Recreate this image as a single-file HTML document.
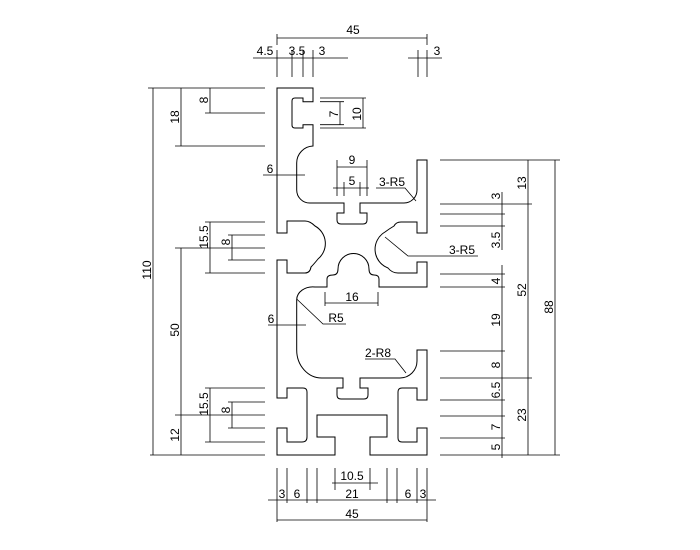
<!DOCTYPE html>
<html><head><meta charset="utf-8"><style>
html,body{margin:0;padding:0;background:#fff;}
svg{display:block;}
text{font-family:"Liberation Sans",sans-serif;font-size:12px;fill:#000;}
</style></head><body>
<svg width="700" height="550" viewBox="0 0 700 550" xmlns="http://www.w3.org/2000/svg">
<g fill="none" stroke="#000" stroke-width="1">
<path d="M277,88 H313 V101.7 H303 V98 H295 Q292,98 292,101 V125 Q292,128 295,128 H303 V124.7 H313 V146
A17 17 0 0 0 296.7 163 V190 A13 13 0 0 0 310 203 H344 V213 H337 V220 Q337,224 341,224 H363 Q367,224 367,220 V213 H360 V203 H404 A13 13 0 0 0 417 190 V160 H427 V233 H417 V222 H401 Q396,222 394,226 Q389,229 385,232 A20 20 0 0 0 388 268 Q392,273 398,273 H417 V262 H427 V287 H379 V279 Q379,275 374,275 Q369,275 369,269 A15 15 0 0 0 338 269 Q338,275 333,275 Q327,275 327,279 V287 H315 A16 13 0 0 0 296.7 300 V350 A25 28 0 0 0 322 378 H343 V388 H337 V395 Q337,399 341,399 H364 Q368,399 368,395 V388 H360 V378 H400 A17 17 0 0 0 417 361 V350 H427 V400 H417 V388 H402 Q398,388 398,392 V438 Q398,442 402,442 H417 V428 H427 V455 H370 V437 H387 V415 H317 V437 H335 V455 H277 V428 H287 V442 H302 Q307,442 307,437 V392 Q307,388 303,388 H287 V398 H277 V260 H287 V273 H305 Q310,273 311,267 Q314,264 318,259 A20 20 0 0 0 315 226 Q310,221 305,221 H287 V233 H277 Z"/>
</g>
<g fill="none" stroke="#000" stroke-width="0.8">
<!-- top dims -->
<path d="M277,38 H427 M277,34 V45 M427,34 V45"/>
<path d="M253,58 H348 M408,58 H442 M277,50 V77 M292,50 V77 M303,50 V77 M313,50 V77 M418,50 V77 M427,50 V77"/>
<!-- left dims -->
<path d="M148,88 H265 M150,455 H265 M153,88 V455"/>
<path d="M181,88 V146 M175,146 H265"/>
<path d="M210,88 V113 M205,113 H265"/>
<path d="M205,222 H265 M205,273 H265 M210,222 V273"/>
<path d="M228,235 H265 M228,260 H265 M232,235 V260"/>
<path d="M175,248 H265 M181,248 V455"/>
<path d="M205,388 H265 M205,442 H265 M210,388 V442"/>
<path d="M228,402 H265 M228,428 H265 M232,402 V428"/>
<path d="M175,415 H265"/>
<!-- 6 labels -->
<path d="M263,175 H305 M268,325 H306"/>
<!-- R5 -->
<path d="M296.7,299 L323,324 H346"/>
<!-- 2-R8 -->
<path d="M365,359 H395 L406,373"/>
<!-- 16 -->
<path d="M325,303 H378 M325,292 V306 M378,292 V306"/>
<!-- 9, 5 -->
<path d="M337,167 H367 M337,160 V196 M367,160 V196"/>
<path d="M333,188 H369 M344,182 V196 M360,182 V196"/>
<!-- 3-R5 upper -->
<path d="M376,188 H405 L416,201"/>
<!-- 7, 10 -->
<path d="M320,101.7 H344 M320,124.7 H344 M340,101.7 V124.7"/>
<path d="M320,98 H366 M320,128 H366 M363,98 V128"/>
<!-- right dims -->
<path d="M440,160 H560 M440,455 H560 M555,160 V455"/>
<path d="M528,160 V378 M528,378 V455 M440,204 H532 M440,378 H532"/>
<path d="M440,214 H505 M440,226 H505 M440,274 H505 M440,287 H505 M440,351 H505 M440,400 H505 M440,416 H505 M440,438 H505"/>
<path d="M502,192 V250 M502,265 V458"/>
<path d="M385,237 L408,256 H478"/>
<!-- bottom dims -->
<path d="M277,468 V522 M427,468 V522 M287,468 V503 M307,468 V503 M317,468 V503 M387,468 V503 M397,468 V503 M417,468 V503"/>
<path d="M335,468 V490 M370,468 V490 M332,483 H378"/>
<path d="M268,500 H436"/>
<path d="M277,520 H427"/>
</g>
<g>
<text x="353" y="34" text-anchor="middle">45</text>
<text x="265" y="55" text-anchor="middle">4.5</text>
<text x="297" y="55" text-anchor="middle">3.5</text>
<text x="322" y="55" text-anchor="middle">3</text>
<text x="437" y="55" text-anchor="middle">3</text>
<text x="352" y="164" text-anchor="middle">9</text>
<text x="352" y="185" text-anchor="middle">5</text>
<text x="392" y="186" text-anchor="middle">3-R5</text>
<text x="270" y="173" text-anchor="middle">6</text>
<text x="271" y="323" text-anchor="middle">6</text>
<text x="336" y="322" text-anchor="middle">R5</text>
<text x="352" y="301" text-anchor="middle">16</text>
<text x="378" y="357" text-anchor="middle">2-R8</text>
<text x="462" y="254" text-anchor="middle">3-R5</text>
<text x="352" y="480" text-anchor="middle">10.5</text>
<text x="282" y="498" text-anchor="middle">3</text>
<text x="297" y="498" text-anchor="middle">6</text>
<text x="352" y="498" text-anchor="middle">21</text>
<text x="408" y="498" text-anchor="middle">6</text>
<text x="423" y="498" text-anchor="middle">3</text>
<text x="352" y="518" text-anchor="middle">45</text>
<text transform="translate(151,270) rotate(-90)" text-anchor="middle">110</text>
<text transform="translate(179,117) rotate(-90)" text-anchor="middle">18</text>
<text transform="translate(208,100) rotate(-90)" text-anchor="middle">8</text>
<text transform="translate(208,237) rotate(-90)" text-anchor="middle">15.5</text>
<text transform="translate(230,242) rotate(-90)" text-anchor="middle">8</text>
<text transform="translate(179,330) rotate(-90)" text-anchor="middle">50</text>
<text transform="translate(208,404) rotate(-90)" text-anchor="middle">15.5</text>
<text transform="translate(230,410) rotate(-90)" text-anchor="middle">8</text>
<text transform="translate(179,435) rotate(-90)" text-anchor="middle">12</text>
<text transform="translate(338,114) rotate(-90)" text-anchor="middle">7</text>
<text transform="translate(361,114) rotate(-90)" text-anchor="middle">10</text>
<text transform="translate(553,307) rotate(-90)" text-anchor="middle">88</text>
<text transform="translate(526,290) rotate(-90)" text-anchor="middle">52</text>
<text transform="translate(526,183) rotate(-90)" text-anchor="middle">13</text>
<text transform="translate(526,415) rotate(-90)" text-anchor="middle">23</text>
<text transform="translate(500,196) rotate(-90)" text-anchor="middle">3</text>
<text transform="translate(500,240) rotate(-90)" text-anchor="middle">3.5</text>
<text transform="translate(500,281) rotate(-90)" text-anchor="middle">4</text>
<text transform="translate(500,320) rotate(-90)" text-anchor="middle">19</text>
<text transform="translate(500,365) rotate(-90)" text-anchor="middle">8</text>
<text transform="translate(500,390) rotate(-90)" text-anchor="middle">6.5</text>
<text transform="translate(500,427) rotate(-90)" text-anchor="middle">7</text>
<text transform="translate(500,447) rotate(-90)" text-anchor="middle">5</text>
</g>
</svg>
</body></html>
